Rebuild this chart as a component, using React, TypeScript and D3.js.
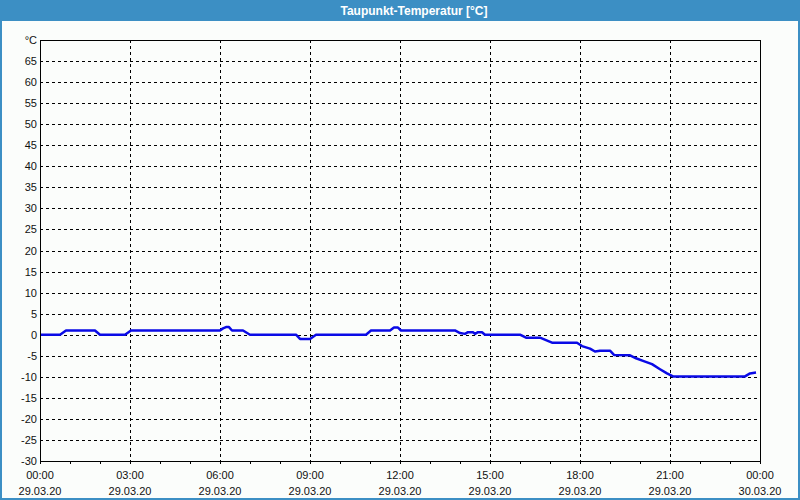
import React from "react";
import * as d3 from "d3";

const title = "Taupunkt-Temperatur [°C]";
const unitLabel = "°C";
const yTicks = [65, 60, 55, 50, 45, 40, 35, 30, 25, 20, 15, 10, 5, 0, -5, -10, -15, -20, -25, -30];
const xTickHours = [0, 3, 6, 9, 12, 15, 18, 21, 24];
const xTimeLabels = ["00:00", "03:00", "06:00", "09:00", "12:00", "15:00", "18:00", "21:00", "00:00"];
const xDateLabels = ["29.03.20", "29.03.20", "29.03.20", "29.03.20", "29.03.20", "29.03.20", "29.03.20", "29.03.20", "30.03.20"];

// hours since 29.03.20 00:00
const hours = [
  0, 0.667, 0.867, 1.833, 2.0, 2.833, 3.033, 6.0, 6.1, 6.2, 6.3, 6.4, 6.767, 7.0,
  8.533, 8.667, 9.0, 9.2, 10.867, 11.033, 11.667, 11.8, 11.933, 12.033, 13.833,
  14.0, 14.167, 14.267, 14.433, 14.5, 14.6, 14.733, 14.833, 16.0, 16.2, 16.667,
  16.867, 17.067, 17.9, 18.067, 18.333, 18.5, 18.667, 19.0, 19.133, 19.667,
  19.867, 20.1, 20.4, 20.667, 20.9, 21.1, 23.5, 23.667, 23.867,
];
// dew point °C
const dewPoint = [
  0, 0, 1, 1, 0, 0, 1, 1, 1.5, 1.8, 1.8, 1, 1, 0,
  0, -1, -1, 0, 0, 1, 1, 1.7, 1.7, 1, 1,
  0.4, 0.2, 0.6, 0.6, 0.2, 0.6, 0.6, 0, 0, -0.7, -0.7,
  -1.3, -1.9, -1.9, -2.7, -3.3, -4.0, -3.8, -3.8, -4.8, -4.9,
  -5.6, -6.2, -7.0, -8.2, -9.2, -9.9, -9.9, -9.2, -9.0,
];

const W = 800;
const H = 500;
const plot = { left: 40, top: 40, right: 760, bottom: 461 };
const font = "'Liberation Sans', Arial, sans-serif";

export default function App() {
  const x = d3.scaleLinear().domain([0, 24]).range([plot.left, plot.right]);
  const y = d3.scaleLinear().domain([-30, 70]).range([plot.bottom, plot.top]);
  const pts: [number, number][] = hours.map((h, i) => [h, dewPoint[i]]);
  const line = d3
    .line<[number, number]>()
    .x((d) => x(d[0]))
    .y((d) => y(d[1]));
  const hourTicks = d3.range(0, 25);

  return (
    <div style={{ position: "fixed", left: 0, top: 0, width: W, height: H }}>
      <svg width={W} height={H} style={{ display: "block" }}>
        <rect x={0} y={0} width={W} height={H} fill="#fbfdfb" />
        <rect x={1} y={1} width={W - 2} height={H - 2} fill="none" stroke="#3c8fc4" strokeWidth={2} />
        <rect x={0} y={0} width={W} height={21} fill="#3c8fc4" />
        <text
          x={W / 2 + 14}
          y={15}
          textAnchor="middle"
          fill="#ffffff"
          fontFamily={font}
          fontWeight="bold"
          fontSize={12}
        >
          {title}
        </text>

        {/* horizontal grid */}
        {yTicks
          .filter((v) => v > -30)
          .map((v) => (
            <line
              key={"hg" + v}
              x1={plot.left}
              x2={plot.right}
              y1={Math.round(y(v)) + 0.5}
              y2={Math.round(y(v)) + 0.5}
              stroke="#000"
              strokeWidth={1}
              strokeDasharray="3,3"
            />
          ))}
        {/* vertical grid */}
        {xTickHours
          .filter((h) => h > 0 && h < 24)
          .map((h) => (
            <line
              key={"vg" + h}
              x1={Math.round(x(h)) + 0.5}
              x2={Math.round(x(h)) + 0.5}
              y1={plot.top}
              y2={plot.bottom}
              stroke="#000"
              strokeWidth={1}
              strokeDasharray="3,3"
            />
          ))}
        {/* hourly ticks */}
        {hourTicks.map((h) => (
          <line
            key={"ht" + h}
            x1={Math.round(x(h)) + 0.5}
            x2={Math.round(x(h)) + 0.5}
            y1={plot.bottom}
            y2={plot.bottom + 3}
            stroke="#000"
            strokeWidth={1}
          />
        ))}

        {/* data line */}
        <path d={line(pts) || ""} fill="none" stroke="#0a0ae6" strokeWidth={2.5} strokeLinejoin="round" />

        {/* frame */}
        <rect
          x={plot.left + 0.5}
          y={plot.top + 0.5}
          width={plot.right - plot.left}
          height={plot.bottom - plot.top}
          fill="none"
          stroke="#000"
          strokeWidth={1}
        />

        {/* y labels */}
        <text x={37} y={y(70) + 4} textAnchor="end" fontFamily={font} fontSize={11} fill="#111">
          {unitLabel}
        </text>
        {yTicks.map((v) => (
          <text
            key={"yl" + v}
            x={37}
            y={y(v) + 4}
            textAnchor="end"
            fontFamily={font}
            fontSize={11}
            fill="#111"
          >
            {v}
          </text>
        ))}

        {/* x labels */}
        {xTickHours.map((h, i) => (
          <g key={"xl" + i}>
            <text x={x(h)} y={479} textAnchor="middle" fontFamily={font} fontSize={11} fill="#111">
              {xTimeLabels[i]}
            </text>
            <text x={x(h)} y={495} textAnchor="middle" fontFamily={font} fontSize={11} fill="#111">
              {xDateLabels[i]}
            </text>
          </g>
        ))}
      </svg>
    </div>
  );
}
